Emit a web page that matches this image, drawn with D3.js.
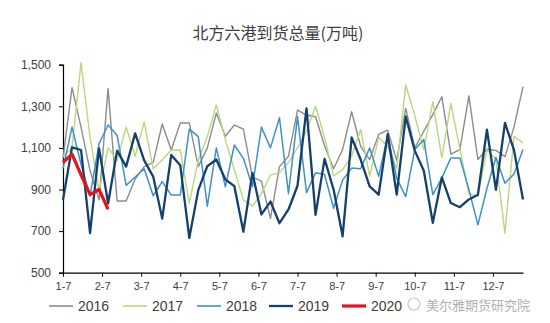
<!DOCTYPE html>
<html><head><meta charset="utf-8">
<script src="https://cdn.jsdelivr.net/npm/d3@7"></script>
<style>
html,body{margin:0;padding:0;background:#fff;}
svg{display:block;}
</style></head>
<body><svg id="c" width="550" height="323"></svg>
<script>
const title = "北方六港到货总量(万吨)";
const monthLabels = ["1-7","2-7","3-7","4-7","5-7","6-7","7-7","8-7","9-7","10-7","11-7","12-7"];
const yTicks = [500, 700, 900, 1100, 1300, 1500];
const seriesNames = ["2016","2017","2018","2019","2020"];
const s2016 = [1050,1390,1200,990,850,1385,845,845,950,1010,1030,1215,1090,1220,1220,1010,1100,1268,1156,1210,1190,960,940,760,1010,1060,1282,1258,1250,1110,1000,1092,1274,1108,1044,1165,1185,1040,1290,1100,1180,1260,1346,1070,1092,1350,1044,1095,1088,1058,1200,1395];
const s2017 = [1060,1100,1510,1150,890,1100,1040,1200,1060,1225,1000,1042,1090,1090,833,1042,1154,1306,1138,994,850,820,880,970,980,1030,1100,1180,1300,1150,965,996,1060,1188,964,1150,1108,1000,1403,1255,1092,1322,1052,1314,1095,880,868,1092,1044,690,1156,1124];
const s2018 = [1000,1200,1020,870,1120,1210,1160,920,960,1000,870,938,873,873,1190,1154,820,1100,913,1114,1050,913,1200,1100,1245,880,1250,885,980,972,810,945,1003,1000,1100,963,1160,955,866,1092,1140,875,955,1052,1052,900,730,905,1055,930,975,1092];
const s2019 = [850,1103,1090,690,1098,833,1087,1010,1170,1040,962,760,1066,1017,667,897,1012,1044,948,916,697,980,780,842,738,804,918,1290,778,1047,900,675,1150,1044,915,875,1166,875,1251,1087,990,740,958,835,815,852,875,1188,898,1220,1090,852];
const s2020 = [1030,1070,970,875,900,805];
const seriesData = [s2016, s2017, s2018, s2019, s2020];
const colors = ["#8c8c8c","#b9d77e","#3d93c6","#14406b","#e3141b"];
const widths = [1.4,1.4,1.5,2.3,3.2];

const svg = d3.select("#c");
const x = d3.scaleLinear().domain([0, 51]).range([63, 523]);
const y = d3.scaleLinear().domain([500, 1500]).range([272.7, 64.7]);
const txt = "#404040";

svg.append("text").attr("x", 278).attr("y", 39).attr("text-anchor","middle")
  .attr("font-family","'Noto Sans CJK SC', sans-serif").attr("font-size",16).attr("fill",txt).text(title);

// y axis
const ya = svg.append("g").attr("transform","translate(63,0)")
  .call(d3.axisLeft(y).tickValues(yTicks).tickSize(4).tickPadding(8).tickFormat(d3.format(",")));
ya.select(".domain").attr("stroke","#000").attr("stroke-width",1.2);
ya.selectAll(".tick line").attr("stroke","#000");
ya.selectAll("text").attr("font-family","'Liberation Sans', Arial, sans-serif").attr("font-size",12).attr("fill",txt);

// x axis
const monthPos = monthLabels.map((d,i)=> i*52/12);
const xa = svg.append("g").attr("transform","translate(0,272.7)")
  .call(d3.axisBottom(x).tickValues(monthPos).tickSize(4).tickSizeOuter(0).tickPadding(6).tickFormat((d,i)=>monthLabels[i]));
xa.select(".domain").attr("stroke","#000").attr("stroke-width",1.2);
xa.selectAll(".tick line").attr("stroke","#000");
xa.selectAll("text").attr("font-family","'Liberation Sans', Arial, sans-serif").attr("font-size",11).attr("fill",txt);

// lines
const line = d3.line().x((d,i)=>x(i)).y(d=>y(d));
seriesData.forEach((s,k)=>{
  svg.append("path").datum(s).attr("d", line).attr("fill","none")
    .attr("stroke", colors[k]).attr("stroke-width", widths[k]).attr("stroke-linejoin","round");
});

// legend
const legX = [49,123,197,269,342];
const lg = svg.append("g");
seriesNames.forEach((n,k)=>{
  lg.append("line").attr("x1",legX[k]).attr("x2",legX[k]+24).attr("y1",306).attr("y2",306)
    .attr("stroke",colors[k]).attr("stroke-width", k===4?3.2:(k===3?2.3:1.6));
  lg.append("text").attr("x",legX[k]+29).attr("y",311).attr("font-family","'Liberation Sans', Arial, sans-serif")
    .attr("font-size",14).attr("fill",txt).text(n);
});

// watermark
const wm = svg.append("g");
wm.append("circle").attr("cx",414).attr("cy",304).attr("r",6).attr("fill","none").attr("stroke","#c8c8c8").attr("stroke-width",1.2);
wm.append("text").attr("x",426).attr("y",310).attr("font-family","'Noto Sans CJK SC', sans-serif")
  .attr("font-size",13).attr("fill","#b0b0b0").text("美尔雅期货研究院");
</script></body></html>
